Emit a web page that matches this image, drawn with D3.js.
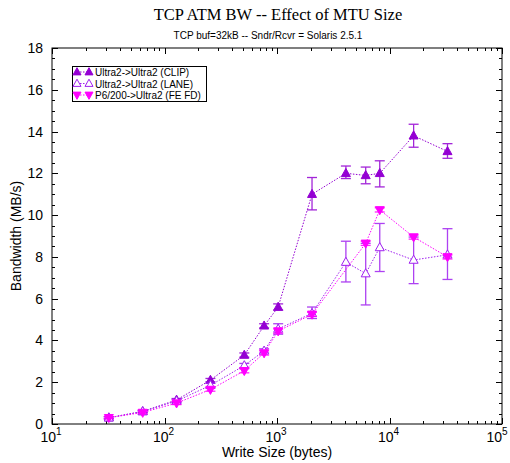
<!DOCTYPE html>
<html>
<head>
<meta charset="utf-8">
<script src="https://cdn.jsdelivr.net/npm/d3@7"></script>
<style>
  body { margin: 0; background: #fff; }
  svg { display: block; }
  text { font-family: "Liberation Sans", Arial, sans-serif; fill: #000; }
</style>
</head>
<body>
<svg id="chart" width="510" height="463"></svg>
<script>
// ---- Data ----
const title = "TCP ATM BW -- Effect of MTU Size";
const subtitle = "TCP buf=32kB -- Sndr/Rcvr = Solaris 2.5.1";
const xLabel = "Write Size (bytes)";
const yLabel = "Bandwidth (MB/s)";

const seriesNames = ["Ultra2->Ultra2 (CLIP)", "Ultra2->Ultra2 (LANE)", "P6/200->Ultra2 (FE FD)"];

const clipSizes = [32, 64, 128, 256, 512, 768, 1024, 2048, 4096, 6144, 8192, 16384, 32768];
const clipMean  = [0.30, 0.60, 1.15, 2.10, 3.30, 4.70, 5.60, 11.00, 12.00, 11.90, 12.00, 13.80, 13.05];
const clipLow   = [0.25, 0.55, 1.08, 2.02, 3.20, 4.60, 5.45, 10.25, 11.75, 11.50, 11.35, 13.25, 12.72];
const clipHigh  = [0.35, 0.65, 1.22, 2.18, 3.40, 4.80, 5.75, 11.80, 12.35, 12.30, 12.60, 14.35, 13.42];

const laneSizes = [32, 64, 128, 256, 512, 768, 1024, 2048, 4096, 6144, 8192, 16384, 32768];
const laneMean  = [0.30, 0.60, 1.10, 1.85, 2.80, 3.50, 4.55, 5.30, 7.75, 7.20, 8.45, 7.85, 8.10];
const laneLow   = [0.25, 0.55, 1.02, 1.75, 2.70, 3.40, 4.30, 5.05, 6.80, 5.70, 7.30, 6.72, 6.92];
const laneHigh  = [0.35, 0.65, 1.18, 1.95, 2.90, 3.60, 4.80, 5.60, 8.75, 8.65, 9.60, 8.95, 9.35];

const fefdSizes = [32, 64, 128, 256, 512, 768, 1024, 2048, 6144, 8192, 16384, 32768];
const fefdMean  = [0.30, 0.55, 1.00, 1.65, 2.55, 3.40, 4.45, 5.25, 8.65, 10.25, 8.95, 8.00];
const fefdLow   = [0.25, 0.50, 0.93, 1.57, 2.45, 3.30, 4.35, 5.15, 8.55, 10.15, 8.85, 7.90];
const fefdHigh  = [0.35, 0.60, 1.07, 1.73, 2.65, 3.50, 4.55, 5.35, 8.75, 10.35, 9.05, 8.10];

const yTicks = [0, 2, 4, 6, 8, 10, 12, 14, 16, 18];
const xDecades = [1, 2, 3, 4, 5];

// ---- Layout ----
const svg = d3.select("#chart");
const L = 52, R = 502, T = 48, B = 424;
const x = d3.scaleLog().domain([10, 1e5]).range([L, R]);
const y = d3.scaleLinear().domain([0, 18]).range([B, T]);

const colors = ["#9400D3", "#A020F0", "#FF00FF"];

// Title
svg.append("text").attr("x", 278).attr("y", 20).attr("text-anchor", "middle")
  .style("font-family", "'Liberation Serif', 'Times New Roman', serif").style("font-size", "16.5px")
  .text(title);
svg.append("text").attr("x", 268).attr("y", 39).attr("text-anchor", "middle")
  .style("font-size", "10px").text(subtitle);

// Frame
svg.append("rect").attr("x", L).attr("y", T).attr("width", R - L).attr("height", B - T)
  .attr("fill", "none").attr("stroke", "#000").attr("stroke-width", 1);

const tickG = svg.append("g").attr("stroke", "#000").attr("stroke-width", 1);
// y ticks
for (let v = 0; v <= 18; v += 0.5) {
  const major = (v % 2 === 0);
  const len = major ? 6 : 3;
  const yy = Math.round(y(v)) + 0.5;
  tickG.append("line").attr("x1", L).attr("x2", L + len).attr("y1", yy).attr("y2", yy);
  tickG.append("line").attr("x1", R).attr("x2", R - len).attr("y1", yy).attr("y2", yy);
}
// x ticks
for (let d = 1; d <= 5; d++) {
  for (let m = 1; m <= 9; m++) {
    const v = m * Math.pow(10, d);
    if (v > 1e5) break;
    const major = (m === 1);
    const len = major ? 6 : 3;
    const xx = Math.round(x(v)) + 0.5;
    tickG.append("line").attr("x1", xx).attr("x2", xx).attr("y1", B).attr("y2", B - len);
    tickG.append("line").attr("x1", xx).attr("x2", xx).attr("y1", T).attr("y2", T + len);
  }
}

// y tick labels
svg.append("g").selectAll("text").data(yTicks).join("text")
  .attr("x", 43).attr("y", d => y(d) + 5).attr("text-anchor", "end")
  .style("font-size", "14px").text(d => d);

// x tick labels (last one nudged left so it stays inside the page)
const xl = svg.append("g").selectAll("text").data(xDecades).join("text")
  .attr("x", d => Math.min(x(Math.pow(10, d)) - 1, 497)).attr("y", 442).attr("text-anchor", "middle")
  .style("font-size", "14px");
xl.append("tspan").text("10");
xl.append("tspan").attr("dy", -7).style("font-size", "10px").text(d => d);

// axis labels
svg.append("text").attr("x", 277).attr("y", 457).attr("text-anchor", "middle")
  .style("font-size", "14px").text(xLabel);
svg.append("text").attr("transform", "translate(21,236) rotate(-90)").attr("text-anchor", "middle")
  .style("font-size", "14px").text(yLabel);

// ---- Series ----
function tri(up, s) {
  const h = s * 0.9;
  return up
    ? `M0,${-h * 0.6}L${s / 2},${h * 0.4}L${-s / 2},${h * 0.4}Z`
    : `M0,${h * 0.6}L${s / 2},${-h * 0.4}L${-s / 2},${-h * 0.4}Z`;
}

const series = [
  { sizes: clipSizes, mean: clipMean, low: clipLow, high: clipHigh, color: colors[0], up: true, filled: true },
  { sizes: laneSizes, mean: laneMean, low: laneLow, high: laneHigh, color: colors[1], up: true, filled: false },
  { sizes: fefdSizes, mean: fefdMean, low: fefdLow, high: fefdHigh, color: colors[2], up: false, filled: true }
];

const line = d3.line().x(d => x(d[0])).y(d => y(d[1]));

series.forEach(s => {
  const pts = s.sizes.map((v, i) => [v, s.mean[i], s.low[i], s.high[i]]);
  const g = svg.append("g");
  g.append("path").attr("d", line(pts)).attr("fill", "none")
    .attr("stroke", s.color).attr("stroke-width", 1).attr("stroke-dasharray", "1.5,1.5");
  // error bars
  const eb = g.append("g").attr("stroke", s.color).attr("stroke-width", 1.3).attr("opacity", 0.85);
  pts.forEach(p => {
    const xx = x(p[0]);
    eb.append("line").attr("x1", xx).attr("x2", xx).attr("y1", y(p[2])).attr("y2", y(p[3]));
    eb.append("line").attr("x1", xx - 5).attr("x2", xx + 5).attr("y1", y(p[2])).attr("y2", y(p[2]));
    eb.append("line").attr("x1", xx - 5).attr("x2", xx + 5).attr("y1", y(p[3])).attr("y2", y(p[3]));
  });
  g.selectAll("path.m").data(pts).join("path").attr("class", "m")
    .attr("transform", p => `translate(${x(p[0])},${y(p[1])})`)
    .attr("d", tri(s.up, 9))
    .attr("fill", s.filled ? s.color : "#fff")
    .attr("stroke", s.color).attr("stroke-width", 1);
});

// ---- Legend ----
const lg = svg.append("g");
lg.append("rect").attr("x", 72.5).attr("y", 66.5).attr("width", 134).attr("height", 35)
  .attr("fill", "#fff").attr("stroke", "#000").attr("stroke-width", 1);
series.forEach((s, i) => {
  const yy = 72 + i * 11.5;
  lg.append("line").attr("x1", 77).attr("x2", 89).attr("y1", yy).attr("y2", yy)
    .attr("stroke", s.color).attr("stroke-width", 1).attr("stroke-dasharray", "1.5,1.5");
  [77, 89].forEach(xx => {
    lg.append("path").attr("transform", `translate(${xx},${yy})`).attr("d", tri(s.up, 8))
      .attr("fill", s.filled ? s.color : "#fff").attr("stroke", s.color).attr("stroke-width", 1);
  });
  lg.append("text").attr("x", 95).attr("y", yy + 4).style("font-size", "10px").text(seriesNames[i]);
});
</script>
</body>
</html>
